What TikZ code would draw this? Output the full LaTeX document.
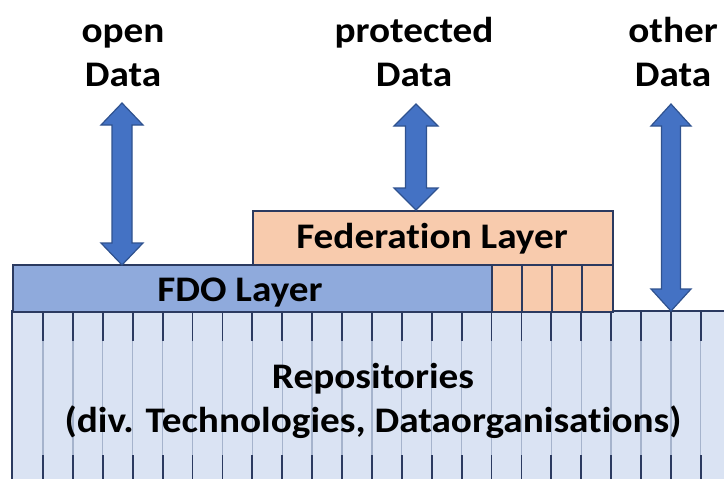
\documentclass[tikz,border=0pt]{standalone}
\usepackage{fontspec}
\setmainfont{Carlito}[FakeStretch=1.09, Ligatures=NoCommon]
\definecolor{arrowfill}{HTML}{4472C4}
\definecolor{arrowline}{HTML}{2F528F}
\definecolor{fdofill}{HTML}{8FAADC}
\definecolor{fedfill}{HTML}{F8CBAD}
\definecolor{repofill}{HTML}{DAE3F3}
\definecolor{navy}{HTML}{2B3A60}
\definecolor{thinblue}{HTML}{A5B3CC}
\tikzset{
  lbl/.style={font=\bfseries\fontsize{36}{44}\selectfont, inner sep=0pt, align=center, anchor=base},
  layerbox/.style={draw=navy, line width=1.6pt, inner sep=0pt, anchor=north west},
  darrow/.style={fill=arrowfill, draw=arrowline, line width=1.2pt, line join=miter},
  thinln/.style={draw=thinblue, line width=1.3pt},
  thickseg/.style={draw=navy, line width=1.8pt},
}
\newcommand\dblarrowpath[6]{% x, top, bottom, headhalf, shafthalf, headlen
  \path[darrow] (#1,#2) -- ({#1+#4},{#2+#6}) -- ({#1+#5},{#2+#6}) -- ({#1+#5},{#3-#6}) -- ({#1+#4},{#3-#6}) -- (#1,#3)
    -- ({#1-#4},{#3-#6}) -- ({#1-#5},{#3-#6}) -- ({#1-#5},{#2+#6}) -- ({#1-#4},{#2+#6}) -- cycle;}
\begin{document}
\begin{tikzpicture}[x=1pt,y=-1pt]
\useasboundingbox (0,0) rectangle (724,479);
% repositories
\fill[repofill] (12,311) rectangle (724,479);
\foreach \i in {0,...,22}{
  \pgfmathsetmacro\xx{43+29.9*\i}
  \draw[thinln] (\xx,311) -- (\xx,479);
  \draw[thickseg] (\xx,311) -- (\xx,341);
  \draw[thickseg] (\xx,455) -- (\xx,479);
}
\draw[navy, line width=1.6pt] (12,479) -- (12,311) -- (724,311);
\node[lbl] (repo) at (373,432) {Repositories\\(div. Technologies, Dataorganisations)};
% FDO layer
\node[layerbox, fill=fdofill, minimum width=479pt, minimum height=47pt] (fdo) at (12,264) {};
\node[lbl] (fdotext) at (240,301) {FDO Layer};
% federation layer
\node[layerbox, fill=fedfill, minimum width=360pt, minimum height=54pt] (fed) at (252,210) {};
\foreach \xx/\nm in {491/a,521/b,551/c}{
  \node[layerbox, fill=fedfill, minimum width=30pt, minimum height=47pt] (cell\nm) at (\xx,264) {};
}
\node[layerbox, fill=fedfill, minimum width=31pt, minimum height=47pt] (celld) at (581,264) {};
\node[lbl] (fedtext) at (432,248) {Federation Layer};
% labels
\node[lbl] (open) at (123,86) {open\\Data};
\node[lbl] (prot) at (414,86) {protected\\Data};
\node[lbl] (other) at (673,86) {other\\Data};
% arrows
\dblarrowpath{122}{103}{265}{21}{10}{22}
\dblarrowpath{416}{104}{210}{22}{10.5}{22}
\dblarrowpath{671}{104}{311}{20}{9.5}{22}
\end{tikzpicture}
\end{document}
